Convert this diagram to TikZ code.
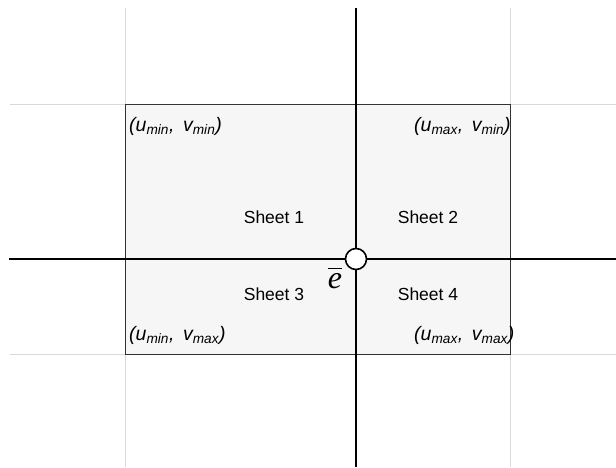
\documentclass[tikz,border=0pt]{standalone}
\usepackage{fontspec}
\setmainfont{Liberation Sans}
\newfontfamily\serifit{Liberation Serif}
\begin{document}
\begin{tikzpicture}[x=1pt,y=-1pt,
  gridline/.style={draw=gray!30,line width=0.9pt},
  axis/.style={draw=black,line width=1.6pt},
  sheetlbl/.style={font=\fontsize{17.5}{20}\selectfont,inner sep=0pt},
  corner/.style={font=\fontsize{19.5}{22}\selectfont\itshape,inner sep=0pt,anchor=west}]
\useasboundingbox (0,0) rectangle (616,467);
% grid lines
\coordinate (gl1) at (125,8); \coordinate (gl2) at (125,467);
\coordinate (gr1) at (510,8); \coordinate (gr2) at (510,467);
\coordinate (gt1) at (10,104); \coordinate (gt2) at (616,104);
\coordinate (gb1) at (10,354); \coordinate (gb2) at (616,354);
\draw[gridline] (gl1) -- (gl2);
\draw[gridline] (gr1) -- (gr2);
\draw[gridline] (gt1) -- (gt2);
\draw[gridline] (gb1) -- (gb2);
% rectangle
\node[draw=black!80,fill=gray!7,line width=0.8pt,minimum width=385pt,minimum height=250pt,inner sep=0pt] (rect) at (317.5,229) {};
% axes
\coordinate (vt) at (356,8); \coordinate (vb) at (356,467);
\coordinate (hl) at (9,259); \coordinate (hr) at (616,259);
\draw[axis] (vt) -- (vb);
\draw[axis] (hl) -- (hr);
\node[circle,draw=black,line width=1.6pt,fill=white,minimum size=21pt,inner sep=0pt] (e) at (356,259) {};
\node[inner sep=0pt,font=\fontsize{32}{34}\selectfont] (elbl) at (335,278) {$\overline{\hbox{\serifit\itshape\rule{0pt}{0.6em}e}}$};
% sheets
\node[sheetlbl] (s1) at (274,217) {Sheet 1};
\node[sheetlbl] (s2) at (428,217) {Sheet 2};
\node[sheetlbl] (s3) at (274,294) {Sheet 3};
\node[sheetlbl] (s4) at (428,294) {Sheet 4};
% corners
\node[corner] (c1) at (129,126) {(u\textsubscript{min},\, v\textsubscript{min})};
\node[corner] (c2) at (414,126) {(u\textsubscript{max},\, v\textsubscript{min})};
\node[corner] (c3) at (129,335) {(u\textsubscript{min},\, v\textsubscript{max})};
\node[corner] (c4) at (414,335) {(u\textsubscript{max},\, v\textsubscript{max})};
\end{tikzpicture}
\end{document}
